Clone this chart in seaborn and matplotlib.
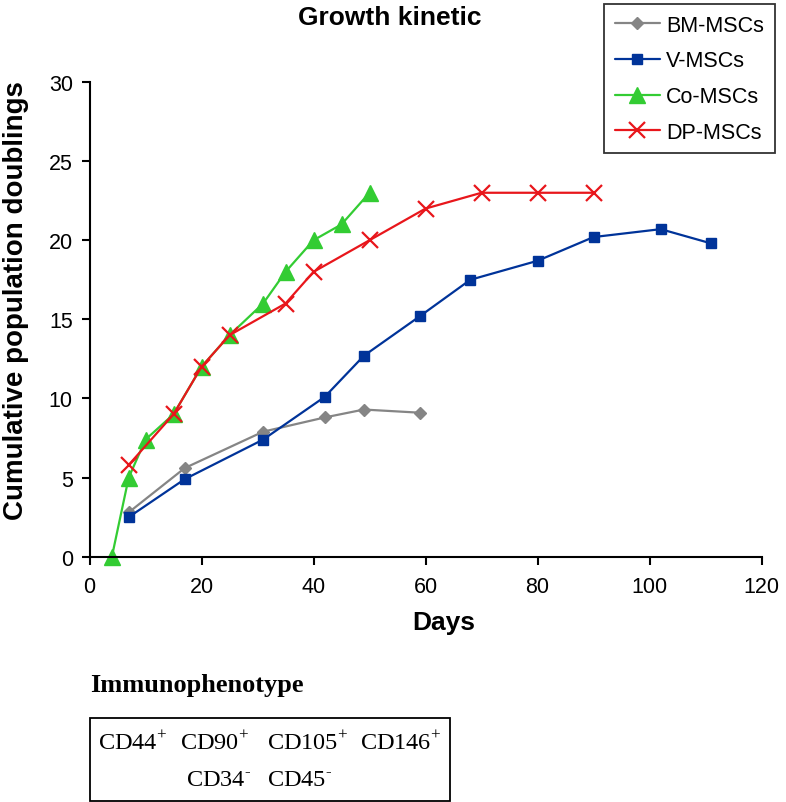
import matplotlib
matplotlib.use('Agg')
import matplotlib.pyplot as plt
from matplotlib.patches import Rectangle
import seaborn as sns

# cumulative population doublings vs days
bm_days = [7, 17, 31, 42, 49, 59]
bm_pd = [2.8, 5.6, 7.9, 8.8, 9.3, 9.1]
v_days = [7, 17, 31, 42, 49, 59, 68, 80, 90, 102, 111]
v_pd = [2.5, 4.9, 7.4, 10.1, 12.7, 15.2, 17.5, 18.7, 20.2, 20.7, 19.8]
co_days = [4, 7, 10, 15, 20, 25, 31, 35, 40, 45, 50]
co_pd = [0, 5, 7.4, 9, 12, 14, 16, 18, 20, 21, 23]
dp_days = [7, 15, 20, 25, 35, 40, 50, 60, 70, 80, 90]
dp_pd = [5.8, 9, 12, 14, 16, 18, 20, 22, 23, 23, 23]

labels = ['BM-MSCs', 'V-MSCs', 'Co-MSCs', 'DP-MSCs']
colors = ['#858585', '#003399', '#33CC33', '#E8161B']

immuno_pos = ['CD44', 'CD90', 'CD105', 'CD146']
immuno_neg = ['CD34', 'CD45']

sns.set_style('ticks')
plt.rcParams['font.family'] = ['Liberation Sans', 'DejaVu Sans']
plt.rcParams['text.color'] = 'black'
plt.rcParams['mathtext.fontset'] = 'custom'
plt.rcParams['mathtext.rm'] = 'Liberation Serif'

W, H = 786, 803
fig = plt.figure(figsize=(W / 100, H / 100), dpi=100)
ax = fig.add_axes([89.5 / W, 1 - 557.7 / H, 672 / W, 474.7 / H])

series = [(bm_days, bm_pd, 'D', 5.8, 1.0),
          (v_days, v_pd, 's', 7.3, 1.0),
          (co_days, co_pd, '^', 11.5, 1.0),
          (dp_days, dp_pd, 'x', 11, 1.6)]
for (x, y, mk, ms, mew), lab, c in zip(series, labels, colors):
    sns.lineplot(x=x, y=y, ax=ax, color=c, label=lab, marker=mk, markersize=ms,
                 markeredgewidth=mew, markeredgecolor=c, linewidth=1.6,
                 estimator=None, sort=False, clip_on=False)

ax.set_xlim(0, 120)
ax.set_ylim(0, 30)
ax.set_xticks(range(0, 121, 20))
ax.set_yticks(range(0, 31, 5))
ax.set_xlabel('')
ax.set_ylabel('')
sns.despine(ax=ax)
for s in ['left', 'bottom']:
    ax.spines[s].set_linewidth(1.5)
    ax.spines[s].set_color('black')
ax.tick_params(axis='both', length=6, width=1.5, colors='black', labelsize=15.5)
ax.tick_params(axis='x', pad=8)
ax.tick_params(axis='y', pad=6)

leg = ax.legend(loc='upper right', bbox_to_anchor=(775 / W, 1 - 5 / H),
                bbox_transform=fig.transFigure, borderaxespad=0, fontsize=15.5,
                frameon=True, fancybox=False, edgecolor='black',
                handlelength=2.1, handletextpad=0.3, labelspacing=0.68,
                borderpad=0.5)
leg.get_frame().set_linewidth(1.3)
for t in leg.get_texts():
    t.set_color('black')

fig.text(390 / W, 1 - 18 / H, 'Growth kinetic', ha='center', va='center',
         fontsize=19, fontweight='bold', color='black')
fig.text(16 / W, 1 - 301 / H, 'Cumulative population doublings', rotation=90,
         ha='center', va='center', fontsize=20, fontweight='bold', color='black')
fig.text(444 / W, 1 - 623 / H, 'Days', ha='center', va='center',
         fontsize=19, fontweight='bold', color='black')

# immunophenotype panel
fig.text(90.5 / W, 1 - 686 / H, 'Immunophenotype', ha='left', va='center',
         fontsize=19, fontweight='bold', family='Liberation Serif', color='black')
fig.patches.append(Rectangle((89.5 / W, 1 - 801.5 / H), 360.5 / W, 82.5 / H,
                             transform=fig.transFigure, fill=False,
                             edgecolor='black', linewidth=1.3))
for name, xp in zip(immuno_pos, [98, 180, 267, 360]):
    fig.text(xp / W, 1 - 750 / H, name + r'$^{\mathrm{+}}$', ha='left',
             va='baseline', fontsize=17.5, family='Liberation Serif', color='black')
for name, xp in zip(immuno_neg, [186.5, 267]):
    fig.text(xp / W, 1 - 786.5 / H, name + r'$^{\text{-}}$', ha='left',
             va='baseline', fontsize=17.5, family='Liberation Serif', color='black')

fig.savefig('out.png', dpi=100)
